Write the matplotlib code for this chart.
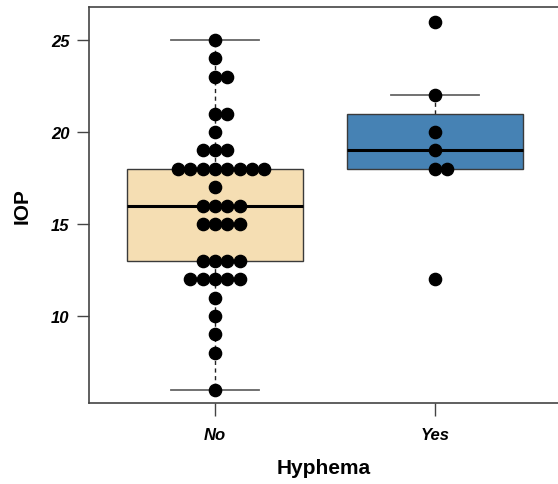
import matplotlib
matplotlib.use("Agg")
import matplotlib.pyplot as plt
import numpy as np

plt.rcParams['font.family'] = ['Liberation Sans', 'DejaVu Sans']

groups = ["No", "Yes"]
iop_no = [25, 24, 23, 23, 21, 21, 20, 19, 19, 19,
          18, 18, 18, 18, 18, 18, 18, 18, 17,
          16, 16, 16, 16, 15, 15, 15, 15,
          13, 13, 13, 13, 12, 12, 12, 12, 12,
          11, 10, 9, 8, 6]
iop_yes = [26, 22, 20, 19, 18, 18, 12]
box_colors = ["#F5DEB3", "#4682B4"]
yticks = [10, 15, 20, 25]

fig = plt.figure(figsize=(5.58, 4.85), dpi=100)
ax = fig.add_axes([89/558, 1 - 404/485, 1 - 89/558 + 0.002, (404 - 8)/485])

data = [iop_no, iop_yes]
bp = ax.boxplot(data, positions=[1, 2], widths=0.8, patch_artist=True,
                showfliers=False, whis=1.5,
                medianprops=dict(color="black", linewidth=2.2, zorder=3),
                boxprops=dict(edgecolor="#3a3a3a", linewidth=1.0, zorder=2),
                whiskerprops=dict(color="#222222", linewidth=1.0, linestyle=(0, (3, 2.5)), zorder=1),
                capprops=dict(color="#666666", linewidth=1.3, zorder=1))
for patch, c in zip(bp['boxes'], box_colors):
    patch.set_facecolor(c)

spacing = 0.056
for pos, vals in zip([1, 2], data):
    uniq = sorted(set(vals))
    for v in uniq:
        n = vals.count(v)
        offs = np.arange(-((n - 1) // 2), n // 2 + 1) * spacing
        ax.plot(pos + offs, [v] * n, 'o', color="black", markersize=8.8,
                zorder=5, clip_on=False)

ax.set_xlim(0.427, 2.565)
ax.set_ylim(5.27, 26.79)
ax.set_xticks([1, 2])
ax.set_xticklabels(groups)
ax.set_yticks(yticks)
ax.set_yticklabels([str(t) for t in yticks])
for lab in ax.get_xticklabels() + ax.get_yticklabels():
    lab.set_fontweight("bold")
    lab.set_fontstyle("italic")
    lab.set_fontsize(12)
ax.tick_params(axis='both', length=9, width=1.0, color="#444444", pad=5)
ax.tick_params(axis='x', pad=8)
for s in ax.spines.values():
    s.set_color("#444444")
    s.set_linewidth(1.2)
ax.spines['right'].set_visible(False)

ax.set_xlabel("Hyphema", fontsize=15, fontweight="bold", labelpad=12)
ax.set_ylabel("IOP", fontsize=15, fontweight="bold", labelpad=14)

fig.savefig("out.png", dpi=100)
